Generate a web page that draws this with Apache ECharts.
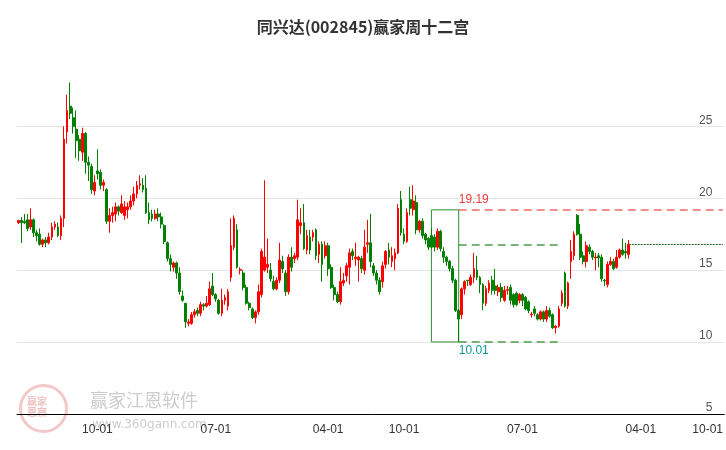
<!DOCTYPE html>
<html>
<head>
<meta charset="UTF-8" />
<script src="https://cdn.jsdelivr.net/npm/echarts@6/dist/echarts.min.js"></script>
<style>
  html, body, #main { width: 100%; height: 100%; margin: 0; padding: 0; overflow: hidden; background: #fff; }
</style>
</head>
<body>
<div id="main"></div>
<script>
// weekly candles: [open, close, low, high]
const candles = [
  [18.3,18.45,18.2,18.5],[18.45,18.3,16.9,18.7],[18.4,18.3,18.2,18.9],[18.5,17.9,17.7,18.9],
  [18.0,18.5,17.8,19.3],[18.5,17.6,17.3,18.6],[17.6,17.4,17.0,17.8],[17.5,16.8,16.7,17.9],
  [16.8,17.1,16.6,17.2],[17.1,16.9,16.6,17.3],[16.9,17.3,16.8,17.6],[17.3,18.0,17.1,18.3],
  [18.0,18.2,17.8,18.4],[18.0,17.4,17.3,18.3],
  [17.4,18.6,17.1,18.8],[18.6,24.1,18.0,25.0],[24.6,26.1,23.8,27.2],[26.4,25.9,25.5,28.05],
  [25.6,25.0,24.5,26.3],[24.8,24.0,22.8,26.1],[24.1,23.3,22.6,24.4],[23.2,24.5,22.6,24.9],
  [24.5,22.5,21.7,24.6],[22.5,22.3,21.2,22.9],[22.2,20.6,20.3,22.4],[20.5,21.1,20.2,21.6],
  [21.9,21.7,21.3,23.4],[21.8,20.9,20.6,22.0],[20.9,21.1,20.5,21.3],[20.6,18.4,18.2,20.7],[18.4,18.8,17.6,19.3],
  [18.8,19.0,18.3,19.4],[18.9,19.4,18.4,19.7],[19.4,19.1,18.8,19.5],[19.0,19.6,18.9,20.2],[18.8,19.4,18.5,19.8],
  [19.2,19.4,18.6,19.7],[19.4,19.8,19.2,20.2],[19.8,20.3,19.5,20.8],[20.3,20.9,20.0,21.2],
  [20.9,21.0,20.6,21.6],[20.9,20.6,20.4,21.4],[20.7,19.0,18.9,21.6],[19.0,18.5,18.2,19.7],
  [18.9,18.6,18.4,19.2],[18.6,18.9,18.5,19.2],[18.9,18.7,18.4,19.3],[18.7,18.2,17.9,19.0],
  [18.1,17.0,16.8,18.2],[16.9,15.8,15.6,17.0],[15.8,15.4,14.9,16.1],[15.2,15.5,14.9,15.6],
  [15.5,14.8,14.4,15.6],[14.8,13.5,13.3,15.2],[13.2,12.9,12.8,13.6],[12.7,11.4,11.0,12.7],
  [11.3,11.4,11.1,11.6],[11.3,11.9,11.2,12.1],[11.9,12.1,11.7,12.3],[12.2,12.0,11.8,12.4],
  [12.0,12.6,11.8,12.8],[12.6,12.5,12.2,12.7],[12.5,12.7,12.4,13.2],[12.6,13.7,12.5,14.2],
  [13.9,13.3,13.2,14.8],[13.3,13.0,12.8,13.4],[12.9,12.0,11.9,13.0],[12.0,12.9,11.8,13.7],
  [12.9,13.1,12.6,13.3],[12.5,13.5,12.2,13.7],[14.5,16.7,14.2,18.6],[16.6,18.6,16.4,18.8],
  [17.8,15.2,15.1,18.2],[15.0,15.05,14.7,15.2],[14.8,13.8,13.6,15.0],[13.8,12.7,12.6,14.0],
  [12.7,12.4,12.2,12.8],[12.3,11.7,11.6,12.4],[11.7,12.1,11.3,12.2],[12.1,13.5,11.9,14.0],
  [13.3,16.3,13.1,16.5],[15.0,15.9,14.9,21.25],[15.2,15.4,14.8,17.2],[15.0,14.4,14.2,15.5],
  [14.2,13.7,13.6,14.6],[13.7,14.3,13.6,14.5],[14.3,15.7,14.1,16.9],
  [15.6,15.1,14.8,16.0],[14.8,13.5,13.2,15.0],[13.5,15.9,13.3,16.1],[15.9,15.2,14.9,16.6],
  [15.8,16.0,15.5,16.2],[15.9,18.5,15.7,19.9],[18.1,18.3,17.5,19.3],[18.3,16.5,16.4,19.6],
  [16.4,17.4,16.1,17.8],[17.3,16.4,16.1,17.8],[17.3,17.6,17.0,17.8],
  [17.8,16.0,15.7,17.9],[16.1,16.8,15.5,17.0],[16.8,15.4,14.2,17.0],[16.0,16.7,15.8,17.0],
  [16.7,15.1,14.6,16.9],[15.2,13.8,13.7,15.4],[13.8,13.3,12.9,14.0],[13.3,12.8,12.7,13.5],
  [12.8,14.2,12.6,15.2],[14.1,14.3,13.9,14.8],[14.6,15.3,14.2,15.5],
  [15.2,16.2,14.0,16.5],[16.3,16.0,15.7,16.5],[15.8,15.9,15.3,16.9],[15.7,15.9,14.2,16.0],
  [15.8,15.1,14.8,16.0],[15.0,16.6,14.7,17.8],[16.8,16.9,16.2,18.5],[16.9,15.6,15.2,18.9],
  [15.3,14.8,14.6,15.5],[14.8,14.3,14.0,15.0],[14.3,13.5,13.3,14.5],
  [14.2,15.3,13.8,15.6],[15.4,16.3,15.1,16.4],[16.4,15.9,15.4,16.9],[15.6,16.0,15.2,16.6],
  [15.8,16.2,15.0,16.5],[16.2,19.3,16.1,19.6],[19.9,17.6,17.4,20.5],[17.5,17.0,16.8,17.9],
  [17.0,19.0,16.9,19.3],[19.9,19.3,18.8,20.8],[19.2,19.8,18.8,20.9],[19.7,17.8,17.5,20.2],
  [17.8,18.4,17.6,18.5],[18.4,17.4,17.2,18.6],[17.5,17.1,16.8,17.6],[17.2,16.6,16.4,17.3],
  [17.4,16.6,16.5,17.9],[17.3,16.6,16.3,17.5],[16.6,17.7,16.4,17.9],[17.7,16.5,16.3,17.8],
  [16.3,15.9,15.5,16.6],[15.9,15.6,15.3,16.0],[15.6,15.1,14.9,15.7],[15.1,14.3,14.1,15.3],
  [14.3,12.2,12.1,14.4],[12.2,11.6,10.01,12.3],[11.9,13.7,11.6,13.8],[13.7,14.2,13.3,14.3],
  [14.3,14.25,13.9,14.3],[14.0,14.5,13.9,14.7],[14.5,15.1,14.1,16.2],[15.0,14.5,14.3,16.0],
  [14.5,14.0,13.4,14.6],[14.0,12.7,12.2,14.1],[12.7,13.7,12.5,13.9],[13.6,14.1,13.4,14.3],
  [14.3,13.6,13.3,14.6],[13.9,13.6,13.3,15.1],[13.5,13.8,13.2,14.0],[13.8,13.1,12.8,14.1],
  [12.9,13.6,12.8,13.9],[13.6,13.65,13.3,13.9],[13.8,12.9,12.6,14.0],[13.3,12.6,12.4,13.4],
  [13.4,12.6,12.5,13.5],[12.9,13.3,12.7,13.4],[13.3,12.9,12.5,13.4],[13.1,12.3,12.2,13.2],
  [12.8,12.2,12.0,12.9],[11.9,11.95,11.7,12.1],[12.3,12.0,11.8,12.5],[11.9,11.6,11.5,12.0],
  [11.6,12.1,11.5,12.2],[12.1,11.6,11.4,12.2],[11.6,12.2,11.4,12.5],[12.2,11.8,11.7,12.4],
  [11.9,11.0,10.9,12.0],[11.0,11.1,10.6,11.2],[11.1,12.3,11.0,12.5],[12.7,13.4,12.5,13.6],
  [14.8,12.5,12.4,14.9],[12.5,14.1,12.3,14.2],[15.6,16.3,14.4,17.1],[16.0,17.5,15.7,17.7],
  [18.8,17.5,17.4,18.9],[17.5,15.9,15.7,18.2],[16.0,15.6,15.4,16.3],[15.6,16.7,15.2,17.0],
  [16.6,16.3,16.1,16.8],[16.3,15.9,15.7,16.4],[15.85,15.9,15.0,16.2],[16.0,15.85,15.2,16.2],
  [15.9,14.4,14.2,16.1],[14.3,14.25,13.9,14.4],[14.0,15.4,13.8,15.6],[15.4,15.6,15.3,15.9],
  [15.6,15.1,15.0,15.8],[15.2,15.9,15.1,16.4],[15.9,16.4,15.8,16.5],[16.4,16.1,16.0,17.2],
  [16.3,16.2,15.8,16.9],[16.1,16.8,15.8,17.1]
];
const emptyWeeks = 31;
const tickLabels = { 26: '10-01', 65: '07-01', 102: '04-01', 127: '10-01', 166: '07-01', 205: '04-01', 227: '10-01' };
const yTicks = [5, 10, 15, 20, 25];
const boxHigh = 19.19;
const boxLow = 10.01;
const midLevel = 16.75;
const boxStart = 136;
const midEnd = 179;

const total = candles.length + emptyWeeks;
const categories = [];
for (let i = 0; i < total; i++) categories.push(String(i));
let lowIdx = 0;
candles.forEach((c, i) => { if (c[2] < candles[lowIdx][2]) lowIdx = i; });
const lastIdx = candles.length - 1;
const lastClose = candles[lastIdx][1];

const chart = echarts.init(document.getElementById('main'));
const showTick = (i) => tickLabels[i] !== undefined;
chart.setOption({
  animation: false,
  title: {
    text: '同兴达(002845)赢家周十二宫', left: 'center', top: 14,
    textStyle: { fontSize: 16, fontWeight: 'bold', color: '#333', fontFamily: 'Noto Sans CJK SC' }
  },
  graphic: [
    { type: 'circle', left: 18, top: 383, z: -10, shape: { r: 23 },
      style: { fill: 'none', stroke: '#f2c8c8', lineWidth: 3 } },
    { type: 'text', left: 27, top: 396, z: -10,
      style: { text: '赢家\n恩察', fill: '#f0c0c0', font: 'bold 10px "Noto Sans CJK SC"', lineHeight: 11 } },
    { type: 'text', left: 90, top: 391, z: -10,
      style: { text: '赢家江恩软件', fill: '#cccccc', font: '18px "Noto Sans CJK SC"' } },
    { type: 'text', left: 92, top: 419, z: -10,
      style: { text: 'www.360gann.com', fill: '#cccccc', font: '12px "DejaVu Sans"' } }
  ],
  grid: { left: 17, right: 0, top: 63, bottom: 36 },
  xAxis: {
    type: 'category', data: categories, boundaryGap: true,
    axisLine: { lineStyle: { color: '#000' } },
    axisTick: { interval: showTick, alignWithLabel: true, lineStyle: { color: '#000' } },
    axisLabel: { interval: showTick, formatter: (v, i) => tickLabels[i] || '', color: '#333', fontSize: 12, margin: 10 },
    splitLine: { show: false }
  },
  yAxis: {
    type: 'value', position: 'right', min: 5, max: 29.4, interval: 5,
    axisLine: { show: false }, axisTick: { show: false },
    axisLabel: { inside: true, color: '#555', fontSize: 12, verticalAlign: 'bottom', margin: 12,
      showMaxLabel: false, formatter: (v) => yTicks.includes(v) ? String(v) : '' },
    splitLine: { showMaxLine: false, lineStyle: { color: '#e4e4e4' } }
  },
  series: [{
    type: 'candlestick', data: candles, barWidth: '75%',
    itemStyle: { color: '#ff0000', color0: '#008000', borderColor: '#ff0000', borderColor0: '#008000', borderWidth: 1 },
    markArea: {
      silent: true,
      itemStyle: { color: 'rgba(0,0,0,0)', borderColor: '#2e8b2e', borderWidth: 1 },
      data: [[{ coord: [boxStart, boxHigh] }, { coord: [lowIdx, boxLow] }]]
    },
    markLine: {
      silent: true, symbol: 'none',
      data: [
        [{ coord: [lowIdx, boxHigh], lineStyle: { color: '#f26b6b', type: [8, 5], width: 1.5 },
           label: { show: true, position: 'insideStartTop', formatter: '19.19', color: '#f03c3c', fontSize: 12, distance: [0, 4] } },
         { coord: [total - 1, boxHigh] }],
        [{ coord: [lowIdx, midLevel], lineStyle: { color: '#4c9f4c', type: [8, 5], width: 1.5 }, label: { show: false } },
         { coord: [midEnd, midLevel] }],
        [{ coord: [lowIdx, boxLow], lineStyle: { color: '#4c9f4c', type: [8, 5], width: 1.5 },
           label: { show: true, position: 'insideStartBottom', formatter: '10.01', color: '#119999', fontSize: 12, distance: [0, 3] } },
         { coord: [midEnd, boxLow] }],
        [{ coord: [lastIdx, lastClose], lineStyle: { color: '#1f5f1f', type: [2, 1], width: 1 }, label: { show: false } },
         { coord: [total - 1, lastClose] }]
      ]
    }
  }]
});
</script>
</body>
</html>
